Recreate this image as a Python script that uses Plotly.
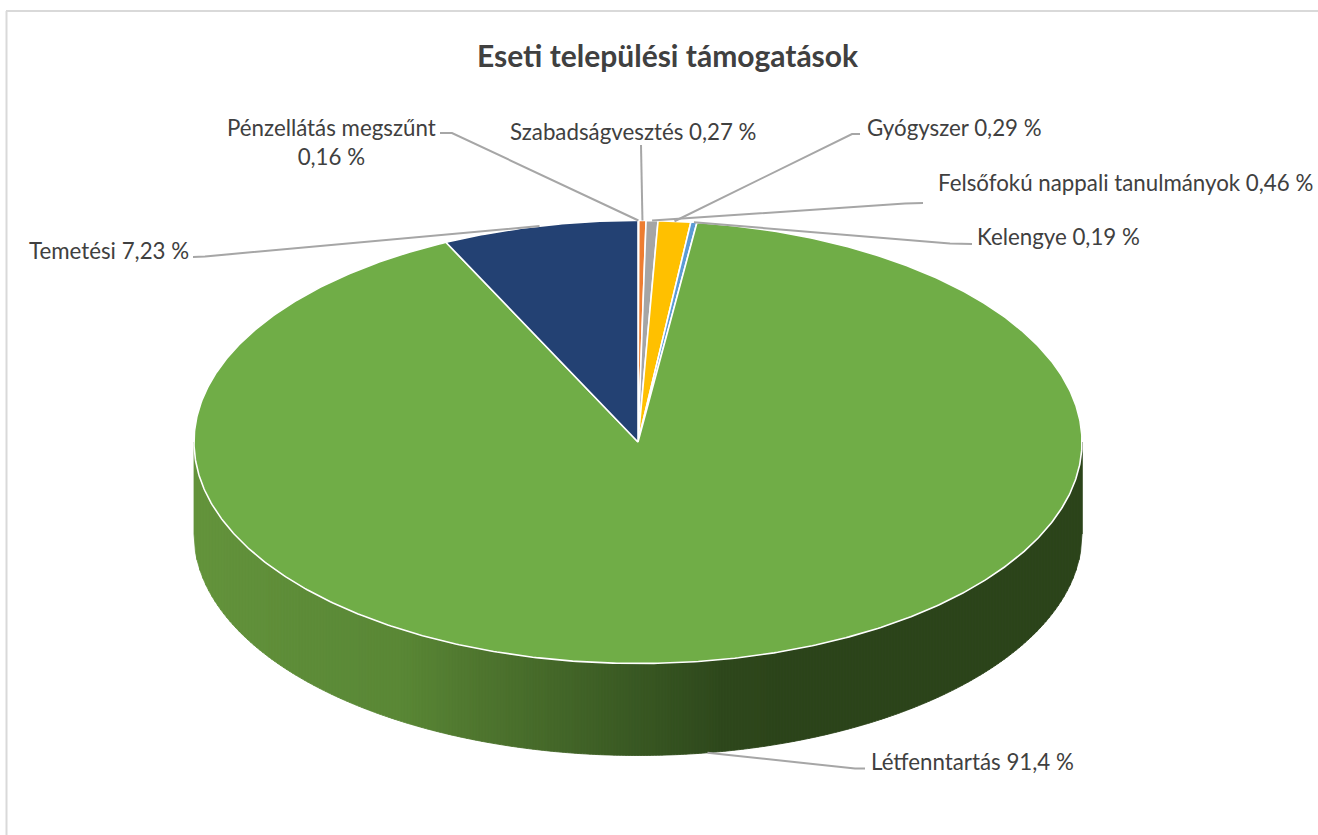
import numpy as np
import plotly.graph_objects as go

# Data: names, printed labels, slice shares (clockwise from 12 o'clock)
names = ["Pénzellátás megszűnt", "Szabadságvesztés", "Felsőfokú nappali tanulmányok",
         "Gyógyszer", "Kelengye", "Létfenntartás", "Temetési"]
printed = ["0,16 %", "0,27 %", "0,46 %", "0,29 %", "0,19 %", "91,4 %", "7,23 %"]
drawn_share = [0.03, 0.26, 0.43, 1.18, 0.22, 90.76, 7.12]
colors = ["#4472C4", "#ED7D31", "#A5A5A5", "#FFC000", "#5B9BD5", "#70AD47", "#234173"]

TITLE = "Eseti települési támogatások"

# Pie geometry in page pixels
CX, CY, RX, RY, DEPTH = 638, 442, 444, 221.5, 92
GREY, TEXT, FONT = "#A6A6A6", "#404040", "Lato"
FS = 22.3

# Label placement: text x, text y, anchor, elbow points
label_layout = [
    dict(x=331, y=142, a="center", text="Pénzellátás megszűnt<br>0,16 %", elbow=[(440, 133), (452, 133)], rim=False),
    dict(x=633, y=131, a="center", text=None, elbow=[(641, 145)], rim=False),
    dict(x=936, y=182, a="left", text=None, elbow=[(923, 203), (905, 203.5)], rim=False),
    dict(x=865, y=127, a="left", text=None, elbow=[(860, 134), (852, 134)], rim=False),
    dict(x=975, y=236, a="left", text=None, elbow=[(972, 244), (950, 243.5)], rim=False),
    dict(x=869, y=761, a="left", text=None, elbow=[(865, 768.5), (855, 768.5)], rim=True),
    dict(x=27, y=250, a="left", text=None, elbow=[(193, 257), (205, 256.5)], rim=False),
]

stops_x = [194, 300, 400, 480, 560, 640, 720, 790, 1083]
stops_r = [100, 94, 90, 79, 68, 57, 47, 44, 44]
stops_g = [148, 141, 136, 118, 103, 88, 73, 68, 68]
stops_b = [60, 57, 54, 47, 41, 35, 29, 27, 27]

fig = go.Figure()


def add_poly(xs, ys, fill, line_color=None, width=1.0):
    fig.add_trace(go.Scatter(x=xs, y=ys, mode="lines", fill="toself", fillcolor=fill,
                             line=dict(color=line_color or fill, width=width),
                             hoverinfo="skip", showlegend=False))


# Side wall of the green slice
edges = np.arange(194, 1083, 3.0)
for x0 in edges:
    x1 = min(x0 + 3.0, 1082.0)
    ts = np.linspace(x0, x1, 3)
    u = np.clip((ts - CX) / RX, -1, 1)
    low = RY * np.sqrt(1 - u ** 2)
    xm = (x0 + x1) / 2
    col = "rgb(%d,%d,%d)" % (np.interp(xm, stops_x, stops_r), np.interp(xm, stops_x, stops_g),
                             np.interp(xm, stops_x, stops_b))
    xs = list(ts) + list(ts[::-1]) + [ts[0]]
    ys = list(CY + low) + list((CY + DEPTH + low)[::-1]) + [CY + low[0]]
    add_poly(xs, ys, col, width=0.8)

# Top face slices
total = sum(drawn_share)
cum = np.concatenate([[0], np.cumsum(drawn_share)]) / total * 2 * np.pi
mids = (cum[:-1] + cum[1:]) / 2
for i, col in enumerate(colors):
    th = np.linspace(cum[i], cum[i + 1], max(3, int((cum[i + 1] - cum[i]) * 120)))
    xs = [CX] + list(CX + RX * np.sin(th)) + [CX]
    ys = [CY] + list(CY - RY * np.cos(th)) + [CY]
    add_poly(xs, ys, col, line_color="white", width=1.6)

# Leader lines
for i, lay in enumerate(label_layout):
    tipx = CX + RX * np.sin(mids[i])
    tipy = CY - RY * np.cos(mids[i]) + (DEPTH if lay["rim"] else 0)
    xs = [p[0] for p in lay["elbow"]] + [tipx]
    ys = [p[1] for p in lay["elbow"]] + [tipy]
    fig.add_trace(go.Scatter(x=xs, y=ys, mode="lines", line=dict(color=GREY, width=2),
                             hoverinfo="skip", showlegend=False))

annots = [dict(x=668, y=55, text="<b>%s</b>" % TITLE, showarrow=False, xref="x", yref="y",
               xanchor="center", yanchor="middle", font=dict(family=FONT, size=30, color=TEXT))]
for i, lay in enumerate(label_layout):
    annots.append(dict(x=lay["x"], y=lay["y"], text=lay["text"] or f"{names[i]} {printed[i]}",
                       showarrow=False, xref="x", yref="y", xanchor=lay["a"], yanchor="middle",
                       align="center", font=dict(family=FONT, size=FS, color=TEXT)))

frame = [dict(type="line", xref="x", yref="y", x0=6.5, x1=6.5, y0=11, y1=835, line=dict(color="#D9D9D9", width=2)),
         dict(type="line", xref="x", yref="y", x0=6, x1=1318, y0=11, y1=11, line=dict(color="#D9D9D9", width=2))]

fig.update_layout(width=1318, height=835, margin=dict(l=0, r=0, t=0, b=0), autosize=False,
                  paper_bgcolor="white", plot_bgcolor="white", showlegend=False,
                  annotations=annots, shapes=frame, hovermode=False,
                  xaxis=dict(range=[0, 1318], visible=False, fixedrange=True),
                  yaxis=dict(range=[835, 0], visible=False, fixedrange=True))

fig.write_html("out.html", post_script="document.body.style.margin='0';",
               config=dict(displayModeBar=False))
